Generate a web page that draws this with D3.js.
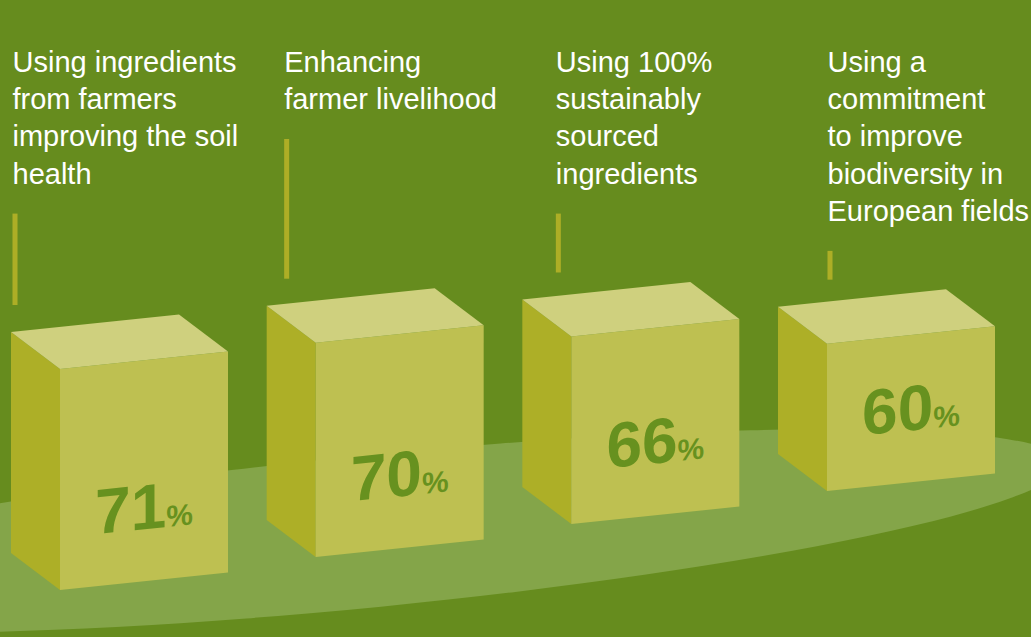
<!DOCTYPE html>
<html>
<head>
<meta charset="utf-8">
<script src="https://cdn.jsdelivr.net/npm/d3@7"></script>
<style>
  html, body { margin: 0; padding: 0; background: #668c1e; }
  svg { display: block; }
</style>
</head>
<body>
<svg width="1031" height="637"></svg>
<script>
var categories = ["soil", "livelihood", "sourced", "biodiversity"];
var values = [71, 70, 66, 60];
var labels = [
  ["Using ingredients", "from farmers", "improving the soil", "health"],
  ["Enhancing", "farmer livelihood"],
  ["Using 100%", "sustainably", "sourced", "ingredients"],
  ["Using a", "commitment", "to improve", "biodiversity in", "European fields"]
];

var svg = d3.select("svg"),
    width = +svg.attr("width"),
    height = +svg.attr("height");

var colors = {
  bg: "#668c1e", ground: "#84a549", front: "#bec051",
  top: "#cfd07e", side: "#adaf27", line: "#adae26", num: "#67911f"
};

// box placement
var x = d3.scalePoint().domain(categories).range([60, 827]),
    labelX = d3.scalePoint().domain(categories).range([12.5, 827.5]),
    base = d3.scaleLinear().domain([60, 827]).range([590, 491]),
    h = d3.scaleLinear().domain([38, 71]).range([0, 221]);

var faceW = 168, tilt = 0.104, depthX = -49, depthY = -37,
    lineH = 37.3, firstBase = 71.7;

var rows = categories.map(function(c, i) {
  var x0 = x(c), y0 = base(x0), hh = h(values[i]);
  return { key: c, value: values[i], lines: labels[i], x0: x0, y0: y0, h: hh };
});

svg.append("rect")
  .attr("width", width)
  .attr("height", height)
  .attr("fill", colors.bg);

// light green ground
svg.append("ellipse")
  .attr("cx", 0).attr("cy", 0)
  .attr("rx", 693).attr("ry", 76)
  .attr("transform", "translate(373.5,531) rotate(-5.64)")
  .attr("fill", colors.ground);

function pts(a) { return a.map(function(p) { return p.join(","); }).join(" "); }

// label text
var lab = svg.append("g").selectAll("text")
  .data(rows)
  .join("text")
  .attr("x", function(d) { return labelX(d.key); })
  .attr("y", firstBase)
  .attr("fill", "#fff")
  .style("font-family", "'Liberation Sans', Arial, Helvetica, sans-serif")
  .style("font-size", "29px");

lab.selectAll("tspan")
  .data(function(d) { return d.lines.map(function(l) { return { t: l, d: d }; }); })
  .join("tspan")
  .attr("x", function(e) { return labelX(e.d.key); })
  .attr("dy", function(e, i) { return i ? lineH : 0; })
  .text(function(e) { return e.t; });

// leader lines
svg.append("g").selectAll("rect")
  .data(rows)
  .join("rect")
  .attr("x", function(d) { return labelX(d.key); })
  .attr("width", 5)
  .attr("y", function(d) { return firstBase + (d.lines.length - 1) * lineH + 30; })
  .attr("height", function(d) {
    var top = firstBase + (d.lines.length - 1) * lineH + 30;
    return (d.y0 - d.h + depthY - 27) - top;
  })
  .attr("fill", colors.line);

var box = svg.append("g").selectAll("g")
  .data(rows)
  .join("g");

box.append("polygon")
  .attr("points", function(d) {
    return pts([[d.x0, d.y0], [d.x0, d.y0 - d.h],
      [d.x0 + depthX, d.y0 - d.h + depthY], [d.x0 + depthX, d.y0 + depthY]]);
  })
  .attr("fill", colors.side);

box.append("polygon")
  .attr("points", function(d) {
    var r = d.x0 + faceW, dr = faceW * tilt;
    return pts([[d.x0, d.y0], [r, d.y0 - dr], [r, d.y0 - dr - d.h], [d.x0, d.y0 - d.h]]);
  })
  .attr("fill", colors.front);

box.append("polygon")
  .attr("points", function(d) {
    var r = d.x0 + faceW, dr = faceW * tilt, t = d.y0 - d.h;
    return pts([[d.x0, t], [r, t - dr], [r + depthX, t - dr + depthY], [d.x0 + depthX, t + depthY]]);
  })
  .attr("fill", colors.top);

// percentages, sheared to sit on the front face
var num = box.append("text")
  .attr("transform", function(d) {
    var cx = d.x0 + faceW / 2;
    var by = d.y0 - tilt * faceW / 2 - 52;
    return "translate(" + cx + "," + by + ") skewY(" + (-Math.atan(tilt) * 180 / Math.PI) + ")";
  })
  .attr("text-anchor", "middle")
  .attr("fill", colors.num)
  .style("font-family", "'Liberation Sans', Arial, Helvetica, sans-serif")
  .style("font-weight", "bold");

num.append("tspan")
  .style("font-size", "64px")
  .text(function(d) { return d.value; });

num.append("tspan")
  .style("font-size", "30px")
  .text("%");
</script>
</body>
</html>
